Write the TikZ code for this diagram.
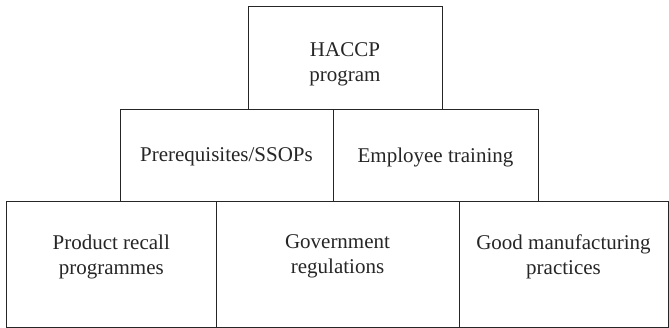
\documentclass[tikz,border=0pt]{standalone}
\usepackage{fontspec}
\setmainfont{Liberation Serif}
\newfontfamily\boxfont{Liberation Serif}
\usepackage{tikz}
\usetikzlibrary{positioning}

\begin{document}
\begin{tikzpicture}[
  box/.style={draw=black!85, line width=0.9pt, inner sep=0pt},
  lbl/.style={align=center, text=black!85, inner sep=0pt,
    font=\boxfont\fontsize{21pt}{25pt}\selectfont}
]
\useasboundingbox (0,0) rectangle (669pt,-328pt);

% top of the pyramid
\node[box, minimum width=194pt, minimum height=103pt,
  label={[lbl, yshift=-7pt]center:HACCP\\program}] (haccp) at (345pt,-57.5pt) {};

% middle row
\node[box, minimum width=213pt, minimum height=92pt,
  label={[lbl, yshift=-2pt]center:Prerequisites/SSOPs}] (prereq) at (226.5pt,-155pt) {};
\node[box, minimum width=205pt, minimum height=92pt,
  label={[lbl, yshift=-2pt]center:Employee training}] (training) at (435.5pt,-155pt) {};

% base row
\node[box, minimum width=209.5pt, minimum height=126pt,
  label={[lbl, yshift=7.5pt]center:Product recall\\programmes}] (recall) at (111.25pt,-264pt) {};
\node[box, minimum width=243pt, minimum height=126pt,
  label={[lbl, yshift=7.5pt]center:Government\\regulations}] (govt) at (337.5pt,-264pt) {};
\node[box, minimum width=209pt, minimum height=126pt,
  label={[lbl, yshift=7.5pt]center:Good manufacturing\\practices}] (gmp) at (563.5pt,-264pt) {};
\end{tikzpicture}
\end{document}
